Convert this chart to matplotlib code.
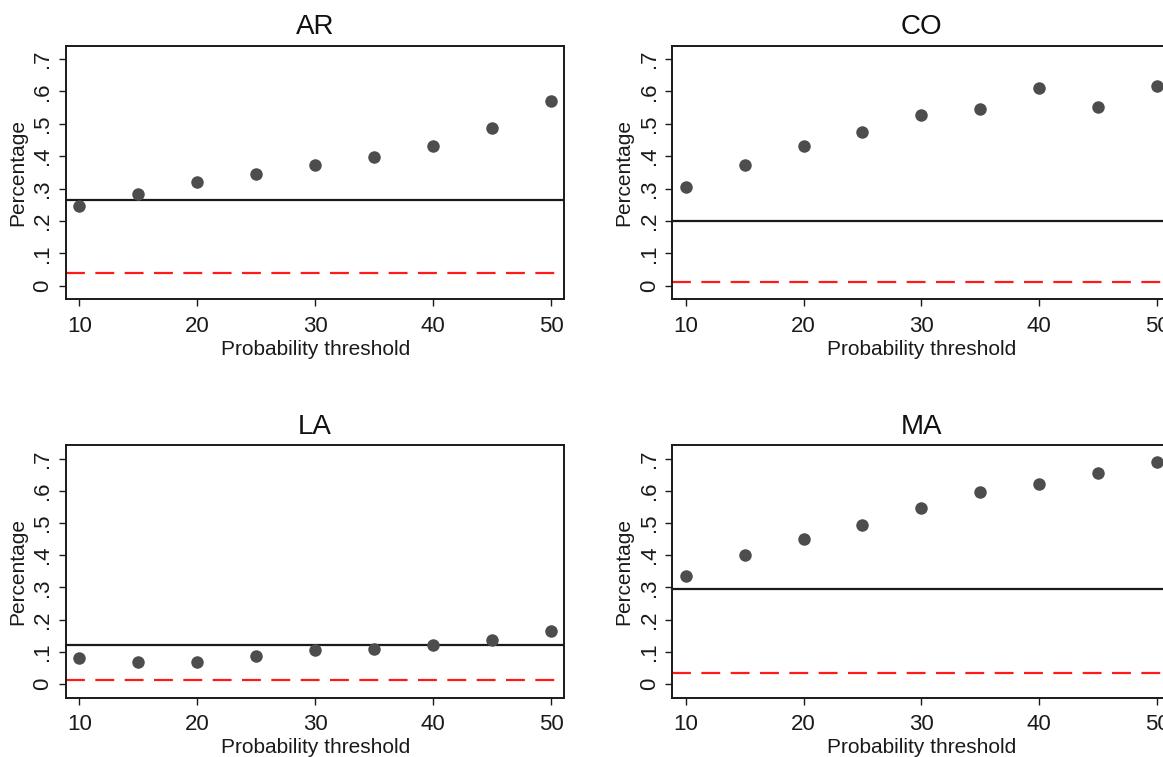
import matplotlib
matplotlib.use("Agg")
import matplotlib.pyplot as plt

plt.rcParams['font.family'] = ['Liberation Sans', 'DejaVu Sans']

thresholds = [10, 15, 20, 25, 30, 35, 40, 45, 50]
panels = ["AR", "CO", "LA", "MA"]
ar_vals = [0.245, 0.283, 0.320, 0.345, 0.372, 0.398, 0.431, 0.487, 0.570]
co_vals = [0.304, 0.373, 0.431, 0.475, 0.526, 0.545, 0.610, 0.552, 0.617]
la_vals = [0.080, 0.070, 0.069, 0.088, 0.105, 0.110, 0.120, 0.137, 0.166]
ma_vals = [0.337, 0.400, 0.451, 0.495, 0.546, 0.595, 0.622, 0.655, 0.689]
black_ref = [0.265, 0.199, 0.122, 0.295]
red_ref = [0.040, 0.012, 0.012, 0.036]
yticks = [0, 0.1, 0.2, 0.3, 0.4, 0.5, 0.6, 0.7]
ytick_labels = ["0", ".1", ".2", ".3", ".4", ".5", ".6", ".7"]
xticks = [10, 20, 30, 40, 50]

series = [ar_vals, co_vals, la_vals, ma_vals]

W, H = 1163, 757
fig = plt.figure(figsize=(W / 100, H / 100), dpi=100)

ax_w = (564.3 - 66) / W
boxes = [
    (66 / W, 1 - 299.3 / H, ax_w, (299.3 - 45.5) / H),
    (672.3 / W, 1 - 299.3 / H, ax_w, (299.3 - 45.5) / H),
    (66 / W, 1 - 697.7 / H, ax_w, (697.7 - 445) / H),
    (672.3 / W, 1 - 697.7 / H, ax_w, (697.7 - 445) / H),
]

for name, vals, bref, rref, box in zip(panels, series, black_ref, red_ref, boxes):
    ax = fig.add_axes(box)
    ax.set_xlim(8.87, 51.13)
    ax.set_ylim(-0.042, 0.742)
    ax.axhline(bref, color="#1a1a1a", lw=1.6, zorder=2)
    ax.axhline(rref, color="#ff1a1a", lw=1.6, dashes=(8.5, 4.7), zorder=2)
    ax.plot(thresholds, vals, "o", color="#4d4d4d", markersize=9, markeredgewidth=0, zorder=3)
    ax.set_xticks(xticks)
    ax.set_yticks(yticks)
    ax.set_yticklabels(ytick_labels, rotation=90, va="center")
    ax.tick_params(axis="both", direction="out", length=5, width=1, labelsize=16, colors="#1a1a1a")
    ax.tick_params(axis="x", pad=7)
    ax.tick_params(axis="y", pad=4)
    for s in ax.spines.values():
        s.set_linewidth(1.4)
        s.set_color("#1a1a1a")
    ax.set_title(name, fontsize=20, pad=8, color="#111111")
    ax.set_xlabel("Probability threshold", fontsize=15, labelpad=2, color="#1a1a1a")
    ax.set_ylabel("Percentage", fontsize=15, labelpad=4, color="#1a1a1a")

fig.savefig("out.png", dpi=100, facecolor="white")
